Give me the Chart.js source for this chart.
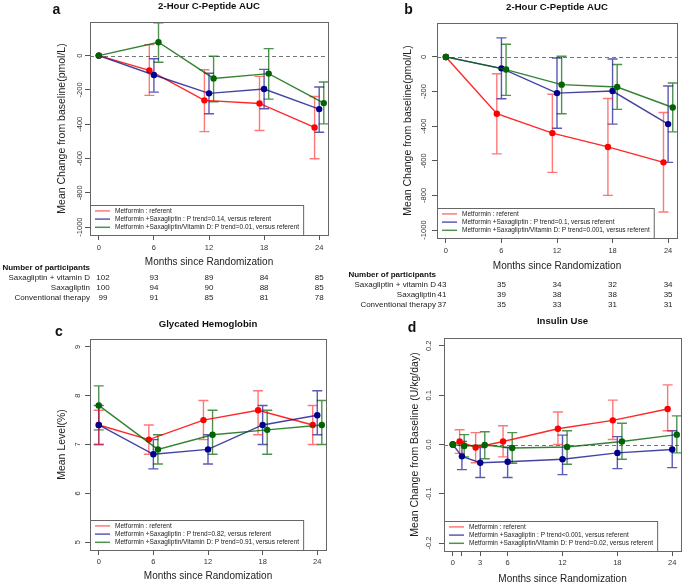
<!DOCTYPE html>
<html lang="en">
<head>
<meta charset="UTF-8" />
<title>C-Peptide AUC, HbA1c and Insulin Use</title>
<style>
  html, body { margin: 0; padding: 0; background: #fff; overflow: hidden; }
  body {
    width: 685px;
    height: 584px;
    position: relative;
    font-family: "Liberation Sans", Arial, sans-serif;
    color: #222;
  }
  canvas { position: absolute; }
  .txt { position: absolute; white-space: nowrap; line-height: 1; z-index: 2; }
  .letter { font-size: 14px; font-weight: bold; color: #111; }
  .tbl { font-size: 8px; }
  .tbl.head { font-weight: bold; color: #111; }
</style>
</head>
<body>
<canvas id="chartA"></canvas>
<canvas id="chartB"></canvas>
<canvas id="chartC"></canvas>
<canvas id="chartD"></canvas>

<script src="https://cdn.jsdelivr.net/npm/chart.js"></script>
<script>
const FONT = '"Liberation Sans", Arial, sans-serif';

// ---- data ----
const months = [0, 6, 12, 18, 24];
const monthsD = [0, 1, 3, 6, 12, 18, 24];
const tickLabelsD = ['0', '', '3', '6', '12', '18', '24'];

const yTicksAB = [-1000, -800, -600, -400, -200, 0];
const yTicksC = [5, 6, 7, 8, 9];
const yTicksD = [-0.2, -0.1, 0, 0.1, 0.2];

// a: 2-hour C-peptide AUC, all participants
const aMetMean = [0, -86, -261, -279, -419];
const aMetLo = [null, -232, -443, -437, -601];
const aMetHi = [null, 64, -82, -121, -238];
const aSaxMean = [0, -113, -220, -195, -312];
const aSaxLo = [null, -213, -339, -310, -447];
const aSaxHi = [null, -18, -103, -80, -183];
const aVitMean = [0, 78, -133, -105, -277];
const aVitLo = [null, -39, -269, -254, -398];
const aVitHi = [null, 191, -4, 41, -154];

// b: 2-hour C-peptide AUC, subgroup
const bMetMean = [0, -328, -440, -520, -609];
const bMetLo = [null, -560, -667, -800, -896];
const bMetHi = [null, -97, -216, -240, -321];
const bSaxMean = [0, -66, -209, -197, -388];
const bSaxLo = [null, -242, -412, -388, -609];
const bSaxHi = [null, 110, -6, -12, -168];
const bVitMean = [0, -73, -160, -174, -292];
const bVitLo = [null, -222, -328, -303, -433];
const bVitHi = [null, 73, 4, -44, -151];

// c: glycated hemoglobin (%)
const cMetMean = [7.4, 7.1, 7.5, 7.7, 7.4];
const cMetLo = [7.0, 6.8, 7.1, 7.2, 7.0];
const cMetHi = [7.7, 7.4, 7.9, 8.1, 7.8];
const cSaxMean = [7.4, 6.8, 6.9, 7.4, 7.6];
const cSaxLo = [7.0, 6.5, 6.6, 7.0, 7.2];
const cSaxHi = [7.8, 7.1, 7.2, 7.8, 8.1];
const cVitMean = [7.8, 6.9, 7.2, 7.3, 7.4];
const cVitLo = [7.3, 6.6, 6.8, 6.8, 7.0];
const cVitHi = [8.2, 7.2, 7.7, 7.7, 7.9];

// d: insulin use, change from baseline (U/kg/day)
const dMetMean = [0, 0.006, -0.006, 0.006, 0.032, 0.049, 0.072];
const dMetLo = [null, -0.018, -0.037, -0.025, 0.0, 0.010, 0.028];
const dMetHi = [null, 0.030, 0.024, 0.038, 0.066, 0.090, 0.121];
const dSaxMean = [0, -0.024, -0.037, -0.035, -0.030, -0.017, -0.010];
const dSaxLo = [null, -0.051, -0.067, -0.067, -0.061, -0.049, -0.047];
const dSaxHi = [null, 0.006, -0.006, -0.006, 0.019, 0.016, 0.028];
const dVitMean = [0, -0.003, -0.001, -0.007, -0.005, 0.006, 0.020];
const dVitLo = [null, -0.025, -0.029, -0.038, -0.040, -0.030, -0.017];
const dVitHi = [null, 0.020, 0.026, 0.024, 0.028, 0.043, 0.058];

// legends
const legendA = ['Metformin : referent',
  'Metformin +Saxagliptin : P trend=0.14, versus referent',
  'Metformin +Saxagliptin/Vitamin D: P trend=0.01, versus referent'];
const legendB = ['Metformin : referent',
  'Metformin +Saxagliptin : P trend=0.1, versus referent',
  'Metformin +Saxagliptin/Vitamin D: P trend=0.001, versus referent'];
const legendC = ['Metformin : referent',
  'Metformin +Saxagliptin : P trend=0.82, versus referent',
  'Metformin +Saxagliptin/Vitamin D: P trend=0.91, versus referent'];
const legendD = ['Metformin : referent',
  'Metformin +Saxagliptin : P trend<0.001, versus referent',
  'Metformin +Saxagliptin/Vitamin D: P trend=0.02, versus referent'];

// number of participants
const partRows = ['Saxagliptin + vitamin D', 'Saxagliptin', 'Conventional therapy'];
const partA = [[102, 93, 89, 84, 85], [100, 94, 90, 88, 85], [99, 91, 85, 81, 78]];
const partB = [[43, 35, 34, 32, 34], [41, 39, 38, 38, 35], [37, 35, 33, 31, 31]];

// ---- styles ----
const RED = { point: '#ff0000', line: 'rgba(255,0,0,0.85)', err: 'rgba(255,30,30,0.6)' };
const BLUE = { point: '#00008b', line: 'rgba(20,20,140,0.8)', err: 'rgba(20,20,150,0.7)' };
const GREEN = { point: '#006400', line: 'rgba(0,100,0,0.8)', err: 'rgba(20,110,20,0.75)' };
const COLORS = [RED, BLUE, GREEN];
const SIDE = [-1, 0, 1]; // horizontal dodge direction per group

// error bars, dashed zero line, frame, rotated y labels and boxed legend
const panelExtras = {
  id: 'panelExtras',
  beforeDatasetsDraw(chart, args, o) {
    const { ctx, chartArea: a, scales: { x, y } } = chart;
    ctx.save();
    if (o.zeroLine) {
      const y0 = Math.round(y.getPixelForValue(0)) + 0.5;
      ctx.strokeStyle = '#777';
      ctx.lineWidth = 1;
      ctx.setLineDash([4, 3]);
      ctx.beginPath();
      ctx.moveTo(a.left, y0);
      ctx.lineTo(a.right, y0);
      ctx.stroke();
      ctx.setLineDash([]);
    }
    chart.data.datasets.slice().reverse().forEach((ds) => {
      ctx.strokeStyle = ds.errColor;
      ctx.lineWidth = 1.4;
      ds.data.forEach((p, i) => {
        if (ds.lo[i] == null) return;
        const px = x.getPixelForValue(p.x);
        const y1 = y.getPixelForValue(ds.lo[i]);
        const y2 = y.getPixelForValue(ds.hi[i]);
        ctx.beginPath();
        ctx.moveTo(px, y1); ctx.lineTo(px, y2);
        ctx.moveTo(px - 5, y1); ctx.lineTo(px + 5, y1);
        ctx.moveTo(px - 5, y2); ctx.lineTo(px + 5, y2);
        ctx.stroke();
      });
    });
    ctx.restore();
  },
  afterDraw(chart, args, o) {
    const { ctx, chartArea: a, scales: { y } } = chart;
    ctx.save();

    // legend box in the lower left corner
    ctx.font = '6.5px ' + FONT;
    const ds = chart.data.datasets;
    const maxW = Math.max(...ds.map((d) => ctx.measureText(d.label).width));
    const top = a.bottom - 30;
    const right = a.left + 25 + maxW + 4;
    ctx.fillStyle = '#fff';
    ctx.fillRect(a.left, top, right - a.left, a.bottom - top);
    ctx.strokeStyle = '#666';
    ctx.lineWidth = 1;
    ctx.strokeRect(a.left + 0.5, top + 0.5, right - a.left, a.bottom - top);
    ctx.textBaseline = 'middle';
    ctx.textAlign = 'left';
    ds.forEach((d, i) => {
      const yy = a.bottom - 7.7 - (ds.length - 1 - i) * 8.2;
      ctx.strokeStyle = d.errColor;
      ctx.lineWidth = 1.5;
      ctx.beginPath();
      ctx.moveTo(a.left + 5, yy);
      ctx.lineTo(a.left + 20, yy);
      ctx.stroke();
      ctx.fillStyle = '#222';
      ctx.fillText(d.label, a.left + 25, yy);
    });

    // plot frame
    ctx.strokeStyle = '#666';
    ctx.lineWidth = 1;
    ctx.strokeRect(Math.round(a.left) + 0.5, Math.round(a.top) + 0.5,
      Math.round(a.right - a.left), Math.round(a.bottom - a.top));

    // rotated y tick labels
    ctx.font = '7.5px ' + FONT;
    ctx.fillStyle = '#333';
    ctx.textAlign = 'center';
    ctx.textBaseline = 'middle';
    y.ticks.forEach((t) => {
      ctx.save();
      ctx.translate(o.yTickX, y.getPixelForValue(t.value));
      ctx.rotate(-Math.PI / 2);
      ctx.fillText(o.yFormat(t.value), 0, 0);
      ctx.restore();
    });
    ctx.restore();
  }
};

function buildPanel(p) {
  const cv = document.getElementById(p.id);
  const box = p.box;
  cv.width = box.w; cv.height = box.h;
  cv.style.left = box.x + 'px'; cv.style.top = box.y + 'px';
  cv.style.width = box.w + 'px'; cv.style.height = box.h + 'px';

  const [pl, pt, pr, pb] = p.plot;
  const titleLh = 9.6 * 1.2, yTitleLh = 10.5 * 1.2, xTitleLh = 10 * 1.2, tickLh = 7.5 * 1.2;
  const padLeft = p.yTitleX - box.x - yTitleLh / 2;

  const datasets = p.series.map((s, k) => ({
    label: p.legend[k],
    data: p.months.map((m, i) => ({ x: m + SIDE[k] * p.dodge[i], y: s.mean[i] })),
    lo: s.lo,
    hi: s.hi,
    errColor: COLORS[k].err,
    borderColor: COLORS[k].line,
    backgroundColor: COLORS[k].point,
    pointBackgroundColor: COLORS[k].point,
    pointBorderWidth: 0,
    pointRadius: 3.2,
    borderWidth: 1.4,
    tension: 0,
    order: 3 - k
  }));

  return new Chart(cv, {
    type: 'line',
    data: { datasets },
    options: {
      responsive: false,
      animation: false,
      devicePixelRatio: 1,
      events: [],
      layout: { padding: { left: padLeft, right: box.x + box.w - pr, top: 0, bottom: 0 } },
      plugins: {
        legend: { display: false },
        tooltip: { enabled: false },
        title: {
          display: true,
          text: p.title,
          fullSize: false,
          color: '#111',
          font: { family: FONT, size: 9.6, weight: 'bold' },
          padding: { top: p.titleY - box.y - titleLh / 2, bottom: pt - p.titleY - titleLh / 2 }
        },
        panelExtras: {
          zeroLine: p.zeroLine,
          yTickX: p.yTickX - box.x,
          yFormat: p.yFormat
        }
      },
      scales: {
        x: {
          type: 'linear',
          min: -0.96,
          max: 24.96,
          afterBuildTicks: (s) => { s.ticks = p.xTicks.map((v) => ({ value: v })); },
          afterFit: (s) => { s.height = box.y + box.h - pb; },
          grid: { drawOnChartArea: false, tickLength: 5, color: '#555' },
          border: { display: false },
          ticks: {
            autoSkip: false,
            maxRotation: 0,
            color: '#333',
            font: { family: FONT, size: 7.5 },
            padding: p.xTickY - pb - 5 - tickLh / 2,
            callback: (v, i) => p.xTickLabels[i]
          },
          title: {
            display: true,
            text: 'Months since Randomization',
            color: '#222',
            font: { family: FONT, size: 10 },
            padding: { top: 0, bottom: box.y + box.h - p.xTitleY - xTitleLh / 2 }
          }
        },
        y: {
          type: 'linear',
          min: p.yMin,
          max: p.yMax,
          afterBuildTicks: (s) => { s.ticks = p.yTicks.map((v) => ({ value: v })); },
          afterFit: (s) => { s.width = pl - box.x - padLeft; },
          grid: { drawOnChartArea: false, tickLength: 5, color: '#555' },
          border: { display: false },
          ticks: { display: false },
          title: {
            display: true,
            text: p.yTitle,
            color: '#222',
            font: { family: FONT, size: 10.5 },
            padding: 0
          }
        }
      }
    },
    plugins: [panelExtras]
  });
}

function addText(text, x, y, cls, anchor) {
  const el = document.createElement('div');
  el.className = 'txt ' + cls;
  el.textContent = text;
  el.style.left = x + 'px';
  el.style.top = y + 'px';
  const dx = anchor === 'right' ? '-100%' : anchor === 'left' ? '0' : '-50%';
  el.style.transform = 'translate(' + dx + ', -50%)';
  document.body.appendChild(el);
}

function addTable(chart, box, counts, labelRight, firstX, headY, rowYs) {
  addText('Number of participants', labelRight, headY, 'tbl head', 'right');
  counts.forEach((row, r) => {
    addText(partRows[r], labelRight, rowYs[r], 'tbl', 'right');
    row.forEach((n, i) => {
      const x = i === 0 ? firstX : box.x + chart.scales.x.getPixelForValue(months[i]);
      addText(String(n), x, rowYs[r], 'tbl', 'center');
    });
  });
}

const dodge = [0, 0.5, 0.5, 0.5, 0.5];
const dodgeD = [0, 0.25, 0.5, 0.5, 0.5, 0.5, 0.5];
const fmtInt = (v) => String(v);
const fmtOne = (v) => v.toFixed(1);

const boxA = { x: 0, y: 0, w: 340, h: 270 };
const chartA = buildPanel({
  id: 'chartA', box: boxA, plot: [90, 22, 328, 235],
  title: '2-Hour C-Peptide AUC', titleY: 6,
  yTitle: 'Mean Change from baseline(pmol/L)', yTitleX: 62, yTickX: 80,
  xTickY: 247.7, xTitleY: 262.7,
  yMin: -1046, yMax: 196, yTicks: yTicksAB, yFormat: fmtInt,
  months: months, dodge: dodge, xTicks: months, xTickLabels: months.map(String),
  zeroLine: true, legend: legendA,
  series: [
    { mean: aMetMean, lo: aMetLo, hi: aMetHi },
    { mean: aSaxMean, lo: aSaxLo, hi: aSaxHi },
    { mean: aVitMean, lo: aVitLo, hi: aVitHi }
  ]
});

const boxB = { x: 340, y: 0, w: 345, h: 274 };
const chartB = buildPanel({
  id: 'chartB', box: boxB, plot: [437, 23, 677, 238],
  title: '2-Hour C-Peptide AUC', titleY: 7,
  yTitle: 'Mean Change from baseline(pmol/L)', yTitleX: 408, yTickX: 424,
  xTickY: 251, xTitleY: 266.7,
  yMin: -1046, yMax: 196, yTicks: yTicksAB, yFormat: fmtInt,
  months: months, dodge: dodge, xTicks: months, xTickLabels: months.map(String),
  zeroLine: true, legend: legendB,
  series: [
    { mean: bMetMean, lo: bMetLo, hi: bMetHi },
    { mean: bSaxMean, lo: bSaxLo, hi: bSaxHi },
    { mean: bVitMean, lo: bVitLo, hi: bVitHi }
  ]
});

const boxC = { x: 0, y: 310, w: 340, h: 274 };
buildPanel({
  id: 'chartC', box: boxC, plot: [90, 339, 326, 550],
  title: 'Glycated Hemoglobin', titleY: 324,
  yTitle: 'Mean Level(%)', yTitleX: 62, yTickX: 78,
  xTickY: 561.7, xTitleY: 576.7,
  yMin: 4.84, yMax: 9.16, yTicks: yTicksC, yFormat: fmtInt,
  months: months, dodge: dodge, xTicks: months, xTickLabels: months.map(String),
  zeroLine: false, legend: legendC,
  series: [
    { mean: cMetMean, lo: cMetLo, hi: cMetHi },
    { mean: cSaxMean, lo: cSaxLo, hi: cSaxHi },
    { mean: cVitMean, lo: cVitLo, hi: cVitHi }
  ]
});

const boxD = { x: 340, y: 310, w: 345, h: 274 };
buildPanel({
  id: 'chartD', box: boxD, plot: [444, 338, 684, 551],
  title: 'Insulin Use', titleY: 321,
  yTitle: 'Mean Change from Baseline (U/kg/day)', yTitleX: 415, yTickX: 429,
  xTickY: 563.3, xTitleY: 579.3,
  yMin: -0.216, yMax: 0.216, yTicks: yTicksD, yFormat: fmtOne,
  months: monthsD, dodge: dodgeD, xTicks: monthsD, xTickLabels: tickLabelsD,
  zeroLine: true, legend: legendD,
  series: [
    { mean: dMetMean, lo: dMetLo, hi: dMetHi },
    { mean: dSaxMean, lo: dSaxLo, hi: dSaxHi },
    { mean: dVitMean, lo: dVitLo, hi: dVitHi }
  ]
});

// panel letters
addText('a', 56.5, 9.3, 'letter', 'center');
addText('b', 408.5, 9.3, 'letter', 'center');
addText('c', 59, 331, 'letter', 'center');
addText('d', 412, 327.3, 'letter', 'center');

// participants tables under a and b
addTable(chartA, boxA, partA, 90, 103, 268.3, [277.7, 287.7, 298.3]);
addTable(chartB, boxB, partB, 436, 442, 275, [285, 295, 305]);
</script>
</body>
</html>
